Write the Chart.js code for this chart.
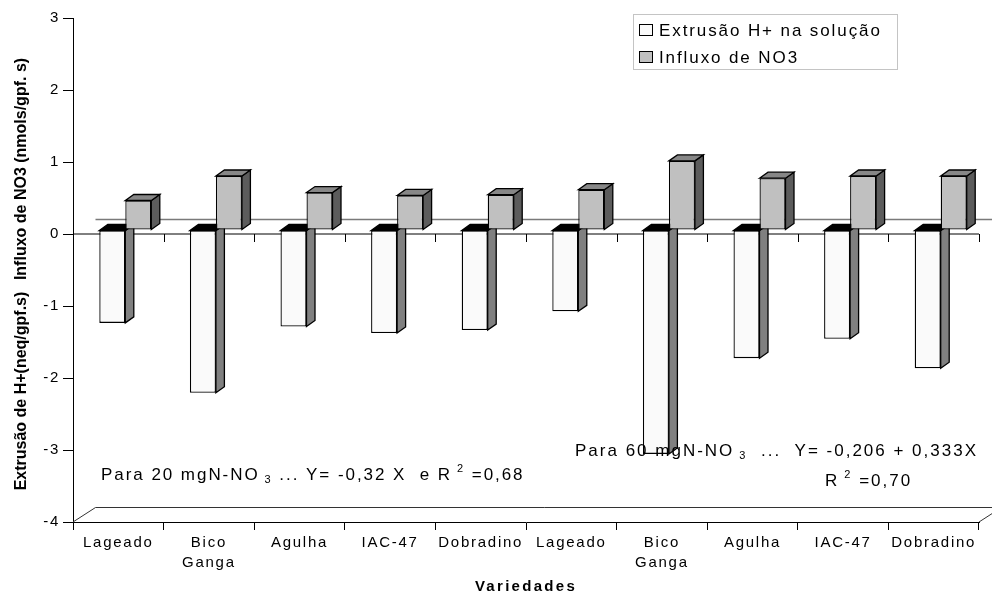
<!DOCTYPE html>
<html>
<head>
<meta charset="utf-8">
<script src="https://cdn.jsdelivr.net/npm/chart.js@4"></script>
<style>
  html, body { margin: 0; padding: 0; background: #fff; }
  #wrap { width: 992px; height: 596px; position: relative; }
</style>
</head>
<body>
<div id="wrap"><canvas id="c" width="992" height="596"></canvas></div>
<script>
// Varieties (two nitrate levels, five varieties each)
const categories = ['Lageado', ['Bico', 'Ganga'], 'Agulha', 'IAC-47', 'Dobradino',
                    'Lageado', ['Bico', 'Ganga'], 'Agulha', 'IAC-47', 'Dobradino'];
// H+ extrusion into the solution (neq/gpf.s)
const extrusao = [-1.29, -2.26, -1.34, -1.43, -1.39, -1.13, -3.11, -1.78, -1.51, -1.92];
// NO3 influx (nmols/gpf.s)
const influxo = [0.41, 0.75, 0.52, 0.48, 0.49, 0.56, 0.96, 0.72, 0.75, 0.75];
const seriesNames = ['Extrusão H+ na solução', 'Influxo de NO3'];
const yTicks = [3, 2, 1, 0, -1, -2, -3, -4];

const FONT = "'Liberation Sans', Arial, sans-serif";

// pseudo-3D geometry
const SHIFT_X = 7, SHIFT_Y = 4;     // bar row sits slightly behind the front plane
const BAR_DX = 8.5, BAR_DY = 6;     // bar depth
const FLOOR_DX = 22.5, FLOOR_DY = 14.5;

const faceColors = [
  { front: '#fafafa', top: '#000000', side: '#808080' },
  { front: '#c0c0c0', top: '#878787', side: '#5c5c5c' }
];

function poly(ctx, pts, fill) {
  ctx.beginPath();
  ctx.moveTo(pts[0][0], pts[0][1]);
  for (let i = 1; i < pts.length; i++) ctx.lineTo(pts[i][0], pts[i][1]);
  ctx.closePath();
  ctx.fillStyle = fill;
  ctx.fill();
  ctx.lineWidth = 1.3;
  ctx.strokeStyle = '#000';
  ctx.stroke();
}

function drawFaces(chart, dsIndex) {
  const ctx = chart.ctx;
  const col = faceColors[dsIndex];
  chart.getDatasetMeta(dsIndex).data.forEach(bar => {
    const p = bar.getProps(['x', 'y', 'base', 'width'], true);
    const l = p.x - p.width / 2, r = p.x + p.width / 2;
    const top = Math.min(p.y, p.base), bot = Math.max(p.y, p.base);
    poly(ctx, [[r, top], [r + BAR_DX, top - BAR_DY], [r + BAR_DX, bot - BAR_DY], [r, bot]], col.side);
    poly(ctx, [[l, top], [l + BAR_DX, top - BAR_DY], [r + BAR_DX, top - BAR_DY], [r, top]], col.top);
  });
}

const depthPlugin = {
  id: 'depth',
  beforeDraw(chart) {
    chart.ctx.letterSpacing = '1.75px';
  },
  beforeDatasetsDraw(chart) {
    const ctx = chart.ctx;
    const xs = chart.scales.x, ys = chart.scales.y;
    const left = chart.chartArea.left, right = chart.chartArea.right;
    const yBottom = ys.getPixelForValue(-4);
    const yZero = ys.getPixelForValue(0);
    ctx.save();
    // floor
    ctx.strokeStyle = '#333';
    ctx.lineWidth = 1;
    ctx.beginPath();
    ctx.moveTo(left, yBottom);
    ctx.lineTo(left + FLOOR_DX, yBottom - FLOOR_DY);
    ctx.lineTo(right + FLOOR_DX, yBottom - FLOOR_DY);
    ctx.lineTo(right, yBottom);
    ctx.stroke();
    // zero line on the back wall
    ctx.strokeStyle = '#7a7a7a';
    ctx.lineWidth = 1.6;
    ctx.beginPath();
    ctx.moveTo(left + FLOOR_DX, yZero - FLOOR_DY);
    ctx.lineTo(right + FLOOR_DX, yZero - FLOOR_DY);
    ctx.stroke();
    // category axis crossing at zero, with its tick marks
    ctx.strokeStyle = '#000';
    ctx.lineWidth = 1;
    ctx.beginPath();
    ctx.moveTo(left, yZero);
    ctx.lineTo(right, yZero);
    const n = categories.length;
    for (let i = 1; i <= n; i++) {
      const xb = (xs.getPixelForValue(i - 1) + (i < n ? xs.getPixelForValue(i) : 2 * xs.getPixelForValue(i - 1) - xs.getPixelForValue(i - 2))) / 2;
      ctx.moveTo(Math.round(xb) + 0.5, yZero);
      ctx.lineTo(Math.round(xb) + 0.5, yZero + 8);
    }
    ctx.stroke();
    ctx.restore();
    // bars are drawn on a plane slightly behind the axes
    ctx.save();
    ctx.translate(SHIFT_X, -SHIFT_Y);
    drawFaces(chart, 0);
  },
  afterDatasetsDraw(chart) {
    drawFaces(chart, 1);
    chart.ctx.restore();
  },
  afterDraw(chart) {
    const ctx = chart.ctx;
    ctx.save();
    ctx.fillStyle = '#000';
    ctx.textBaseline = 'alphabetic';

    // rich text runs: [text, size, baseline shift]
    function runs(x, y, parts, spacing) {
      let cx = x;
      parts.forEach(([t, size, dy]) => {
        ctx.font = size + 'px ' + FONT;
        ctx.letterSpacing = spacing + 'px';
        ctx.textAlign = 'left';
        ctx.fillText(t, cx, y + dy);
        cx += ctx.measureText(t).width;
      });
    }
    runs(101, 480, [['Para 20 mgN-NO', 17, 0], [' 3', 11, 3], [' ... Y= -0,32 X  e R', 17, 0], [' 2', 11, -8], [' =0,68', 17, 0]], 1.95);
    runs(575, 456, [['Para 60 mgN-NO', 17, 0], [' 3', 11, 3], ['  ...  Y= -0,206 + 0,333X', 17, 0]], 2.0);
    runs(825, 486, [['R', 17, 0], [' 2', 11, -8], [' =0,70', 17, 0]], 2.0);

    // legend
    ctx.lineWidth = 1;
    ctx.strokeStyle = '#c4c4c4';
    ctx.strokeRect(633.5, 14.5, 264, 55);
    const rows = [30, 57];
    seriesNames.forEach((name, i) => {
      ctx.fillStyle = faceColors[i].front;
      ctx.fillRect(639, rows[i] - 6, 14, 12);
      ctx.strokeStyle = '#000';
      ctx.strokeRect(639.5, rows[i] - 5.5, 13, 11);
      ctx.fillStyle = '#000';
      ctx.font = '17px ' + FONT;
      ctx.letterSpacing = '1.9px';
      ctx.textAlign = 'left';
      ctx.fillText(name, 659, rows[i] + 6);
    });

    // axis titles
    ctx.font = 'bold 16px ' + FONT;
    ctx.letterSpacing = '0px';
    ctx.textAlign = 'center';
    ctx.save();
    ctx.translate(26, 0);
    ctx.rotate(-Math.PI / 2);
    ctx.fillText('Influxo de NO3 (nmols/gpf. s)', -169, 0);
    ctx.fillText('Extrusão de H+(neq/gpf.s)', -391, 0);
    ctx.restore();
    ctx.font = 'bold 15px ' + FONT;
    ctx.letterSpacing = '2.3px';
    ctx.fillText('Variedades', (chart.chartArea.left + chart.chartArea.right) / 2, 591);
    ctx.restore();
  }
};

new Chart(document.getElementById('c'), {
  type: 'bar',
  data: {
    labels: categories,
    datasets: [
      { label: seriesNames[0], data: extrusao, backgroundColor: faceColors[0].front,
        borderColor: '#000', borderWidth: 1.3, borderSkipped: false },
      { label: seriesNames[1], data: influxo, backgroundColor: faceColors[1].front,
        borderColor: '#000', borderWidth: 1.3, borderSkipped: false }
    ]
  },
  options: {
    responsive: false,
    animation: false,
    events: [],
    datasets: { bar: { categoryPercentage: 0.574, barPercentage: 1 } },
    layout: { padding: { top: 18, right: 13, left: 0, bottom: 0 } },
    plugins: { legend: { display: false }, tooltip: { enabled: false } },
    scales: {
      x: {
        grid: { display: true, drawOnChartArea: false, drawTicks: true, tickLength: 8,
                color: '#000', offset: true },
        border: { display: true, color: '#000', width: 1 },
        ticks: { color: '#000', font: { family: FONT, size: 15, lineHeight: 1.33 },
                 autoSkip: false, maxRotation: 0, minRotation: 0, padding: 3 },
        afterFit(scale) { scale.height = 74; }
      },
      y: {
        min: -4, max: 3,
        afterBuildTicks(scale) { scale.ticks = yTicks.map(v => ({ value: v })); },
        grid: { display: true, drawOnChartArea: false, drawTicks: true, tickLength: 10, color: '#000' },
        border: { display: true, color: '#000', width: 1 },
        ticks: { color: '#000', font: { family: FONT, size: 15 }, padding: 3,
                 callback: v => String(v) },
        afterFit(scale) { scale.width = 73; }
      }
    }
  },
  plugins: [depthPlugin]
});
</script>
</body>
</html>
